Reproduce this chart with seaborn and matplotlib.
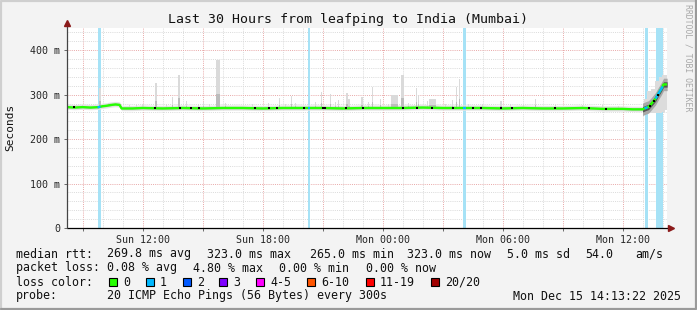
import matplotlib
matplotlib.use("Agg")
import matplotlib.pyplot as plt
import seaborn as sns
import pandas as pd
import numpy as np
from matplotlib.lines import Line2D
from matplotlib.patches import Rectangle

# ---------------- data (time in hours since Sun 00:00, values in ms) ----------------
med_hours = [8.22, 8.6, 9.0, 9.4, 9.8, 10.0, 10.2, 10.45, 10.65, 10.85, 10.95, 11.5,
             12, 13, 14, 15, 16, 17, 18, 19, 20, 21, 22, 23, 24, 25, 26, 27, 28, 29,
             30, 31, 32, 33, 34, 35, 36, 36.5, 37.0, 37.15, 37.3, 37.45, 37.65, 37.8,
             37.95, 38.05, 38.23]
med_ms = [272, 271, 272, 271, 272, 274, 275, 277, 278, 277, 269, 269,
          270, 269, 270, 269, 270, 270, 269, 270, 270, 270, 269, 270, 270, 270, 271, 270, 270, 270,
          269, 270, 269, 269, 270, 268, 268, 267, 267, 270, 272.5, 280, 291, 303,
          314, 323, 323]

spike_hours = [9.0, 9.87, 10.35, 11.35, 11.7, 12.03, 12.67, 13.2, 13.5, 13.83, 14.2, 14.8,
               15.05, 15.35, 15.78, 16.15, 17.5, 18.3, 18.85, 19.15, 19.45, 19.65, 20.65,
               20.95, 21.4, 21.65, 21.8, 22.23, 22.3, 22.98, 23.3, 23.5, 23.9, 24.3, 24.6,
               25.0, 25.3, 25.7, 25.8, 26.25, 26.5, 27.15, 27.5, 27.7, 27.85, 28.3, 29.0,
               29.9, 29.95, 30.4, 31.05, 31.65, 32.65, 34.0, 35.0, 35.8]
spike_top = [276, 315, 282, 276, 277, 279, 326, 280, 295, 344, 285, 280,
             284, 279, 377, 282, 280, 281, 293, 279, 297, 282, 283,
             305, 301, 284, 288, 303, 290, 295, 283, 318, 291, 279, 300,
             344, 282, 314, 300, 285, 290, 280, 288, 318, 335, 280, 278,
             285, 286, 278, 277, 291, 276, 276, 277, 275]
spike_dur_min = [5, 4, 10, 5, 5, 5, 8, 5, 5, 5, 5, 5,
                 5, 5, 12, 5, 5, 5, 5, 5, 5, 5, 5,
                 5, 5, 5, 5, 5, 10, 5, 5, 5, 5, 5, 20,
                 8, 5, 5, 5, 5, 20, 5, 5, 5, 4, 5, 5,
                 5, 5, 5, 5, 5, 5, 5, 5, 5]

end_hours = [37.0, 37.1, 37.3, 37.5, 37.7, 37.9, 38.05, 38.23]
end_lo = [264, 258, 258, 258, 258, 258, 262, 265]
end_hi = [275, 290, 308, 312, 330, 340, 345, 345]

dot_hours = [8.55, 12.6, 13.85, 14.4, 14.8, 17.6, 18.3, 18.7, 20.05, 21.0, 21.13, 22.15,
             23.0, 25.0, 25.7, 26.45, 27.5, 28.5, 28.9, 29.9, 30.45, 32.6, 34.3, 35.15,
             37.35, 37.55, 37.75]

loss_start = [9.75, 20.25, 28.0, 37.1, 37.65]
loss_end = [9.9, 20.375, 28.15, 37.25, 38.0]

x_tick_hours = [12, 18, 24, 30, 36]
x_tick_labels = ["Sun 12:00", "Sun 18:00", "Mon 00:00", "Mon 06:00", "Mon 12:00"]
y_tick_ms = [0, 100, 200, 300, 400]
y_tick_labels = ["0", "100 m", "200 m", "300 m", "400 m"]

title = "Last 30 Hours from leafping to India (Mumbai)"
loss_names = ["0", "1", "2", "3", "4-5", "6-10", "11-19", "20/20"]
loss_colors = ["#26ff00", "#00b8ff", "#0059ff", "#7e00ff", "#ff00ff", "#ff5500", "#ff0000", "#a00000"]

# ---------------- figure ----------------
sns.set_style("white")
plt.rcParams["font.family"] = ["DejaVu Sans Mono"]

W, H = 697, 310
fig = plt.figure(figsize=(W / 100, H / 100), dpi=100)
fig.patch.set_facecolor("#f3f3f3")

L, R, T, B = 67, 667, 28, 228
ax = fig.add_axes([L / W, 1 - B / H, (R - L) / W, (B - T) / H])
ax.set_facecolor("white")
x0 = 8 + 13 / 60 + 22 / 3600
ax.set_xlim(x0, x0 + 30)
ax.set_ylim(0, 450)

# grid
minor_col, major_col = "#dadada", "#e8a8a8"
dot = (0, (1, 1.2))
for h in range(9, 39):
    ax.axvline(h, color=major_col if h % 3 == 0 else minor_col, lw=0.7, ls=dot, zorder=0.5)
for v in range(20, 450, 20):
    ax.axhline(v, color=major_col if v % 100 == 0 else minor_col, lw=0.7, ls=dot, zorder=0.5)

# loss background bars
for s, e in zip(loss_start, loss_end):
    ax.axvspan(s, e, color="#a6e2f6", lw=0, zorder=1)

# smoke
mh = np.array(med_hours)
mm = np.array(med_ms)
fine_h = np.linspace(x0, 37.05, 800)
fine_m = np.interp(fine_h, mh, mm)
ax.fill_between(fine_h, fine_m - 5, fine_m + 7, color="#e4e4e4", lw=0, zorder=2)
ax.fill_between(fine_h, fine_m - 2, fine_m + 3.5, color="#c8c8c8", lw=0, zorder=2.1)
sp_med = np.interp(spike_hours, mh, mm)
ax.bar(spike_hours, np.array(spike_top) - sp_med, bottom=sp_med,
       width=np.array(spike_dur_min) / 60, color="#dadada", lw=0, zorder=2.05, align="center")
ax.bar(spike_hours, (np.array(spike_top) - sp_med) * 0.3, bottom=sp_med,
       width=np.array(spike_dur_min) / 60, color="#bcbcbc", lw=0, zorder=2.06, align="center")
ax.fill_between(end_hours, end_lo, end_hi, step="mid", color="#dcdcdc", lw=0, zorder=2)
end_fine = np.linspace(37.0, 38.23, 200)
end_med = np.interp(end_fine, mh, mm)
ax.fill_between(end_fine, end_med - 14, end_med + 14, color="#a8a8a8", lw=0, zorder=2.1)
ax.fill_between(end_fine, end_med - 6, end_med + 6, color="#555555", lw=0, zorder=2.2)

# median line coloured by loss
df = pd.DataFrame({"hour": med_hours, "rtt": med_ms})
sns.lineplot(data=df, x="hour", y="rtt", ax=ax, color="#26ff00", lw=1.7, zorder=3)
for s, e in zip(loss_start, loss_end):
    seg_h = np.linspace(s, e, 10)
    ax.plot(seg_h, np.interp(seg_h, mh, mm), color="#00b8ff", lw=1.7, zorder=3.1,
            solid_capstyle="butt")
ax.scatter(dot_hours, np.interp(dot_hours, mh, mm), marker="s", s=1.3, color="black",
           lw=0, zorder=4)

# axes
ax.set_xlabel("")
ax.set_ylabel("")
ax.set_xticks(x_tick_hours)
ax.set_xticklabels(x_tick_labels)
ax.set_xticks(list(range(9, 39, 3)), minor=True)
ax.set_yticks(y_tick_ms)
ax.set_yticklabels(y_tick_labels)
ax.tick_params(axis="both", which="major", labelsize=7.2, length=2, width=0.6,
               color="#555555", direction="out", bottom=True, left=True, pad=3)
ax.tick_params(axis="x", which="minor", length=2, width=0.6, color="#555555",
               direction="out", bottom=True)
for s in ["top", "right", "left", "bottom"]:
    ax.spines[s].set_visible(False)

def fx(x):
    return x / W

def fy(y):
    return 1 - y / H

# axis lines with arrows
fig.add_artist(Line2D([fx(L), fx(672)], [fy(B), fy(B)], color="black", lw=0.9))
fig.add_artist(Line2D([fx(L), fx(L)], [fy(B), fy(22)], color="#444444", lw=0.9))
fig.add_artist(Line2D([fx(671)], [fy(B)], marker=">", markersize=4.5, color="#8b1a1a", lw=0))
fig.add_artist(Line2D([fx(L)], [fy(23)], marker="^", markersize=4.5, color="#8b1a1a", lw=0))

# texts
fig.text(fx(348), fy(19), title, ha="center", va="center", fontsize=9.5, color="#111111")
fig.text(fx(10), fy(127), "Seconds", rotation=90, ha="center", va="center", fontsize=8, color="#111111")
fig.text(fx(688), fy(58), "RRDTOOL / TOBI OETIKER", rotation=270, ha="center", va="center",
         fontsize=5.9, color="#a8a8a8")

fs = 8.4
rows = [
    (254, [(16, "median rtt:"), (107, "269.8 ms avg"), (207, "323.0 ms max"), (310, "265.0 ms min"),
           (407, "323.0 ms now"), (507, "5.0 ms sd"), (585, "54.0"), (635, "am/s")]),
    (268, [(16, "packet loss:"), (107, "0.08 % avg"), (193, "4.80 % max"), (279, "0.00 % min"),
           (366, "0.00 % now")]),
    (296, [(16, "probe:"), (107, "20 ICMP Echo Pings (56 Bytes) every 300s"),
           (513, "Mon Dec 15 14:13:22 2025")]),
]
for yy, items in rows:
    for xx, t in items:
        fig.text(fx(xx), fy(yy), t, ha="left", va="center", fontsize=fs, color="#111111")
fig.text(fx(16), fy(282), "loss color:", ha="left", va="center", fontsize=fs, color="#111111")
box_x = [109, 146, 183, 219, 256, 307, 366, 431]
for bx, name, col in zip(box_x, loss_names, loss_colors):
    fig.add_artist(Rectangle((fx(bx), fy(286)), 8 / W, 8 / H, transform=fig.transFigure,
                             facecolor=col, edgecolor="black", lw=0.8))
    fig.text(fx(bx + 14), fy(282), name, ha="left", va="center", fontsize=fs, color="#111111")

# frame
fig.add_artist(Line2D([0.5 / W, 0.5 / W, 1 - 0.5 / W], [0, 1 - 0.5 / H, 1 - 0.5 / H],
                      color="#cfcfcf", lw=1.6))
fig.add_artist(Line2D([0.5 / W, 1 - 0.8 / W, 1 - 0.8 / W], [0.8 / H, 0.8 / H, 1],
                      color="#9a9a9a", lw=1.6))

fig.savefig("out.png", dpi=100, facecolor=fig.get_facecolor())
